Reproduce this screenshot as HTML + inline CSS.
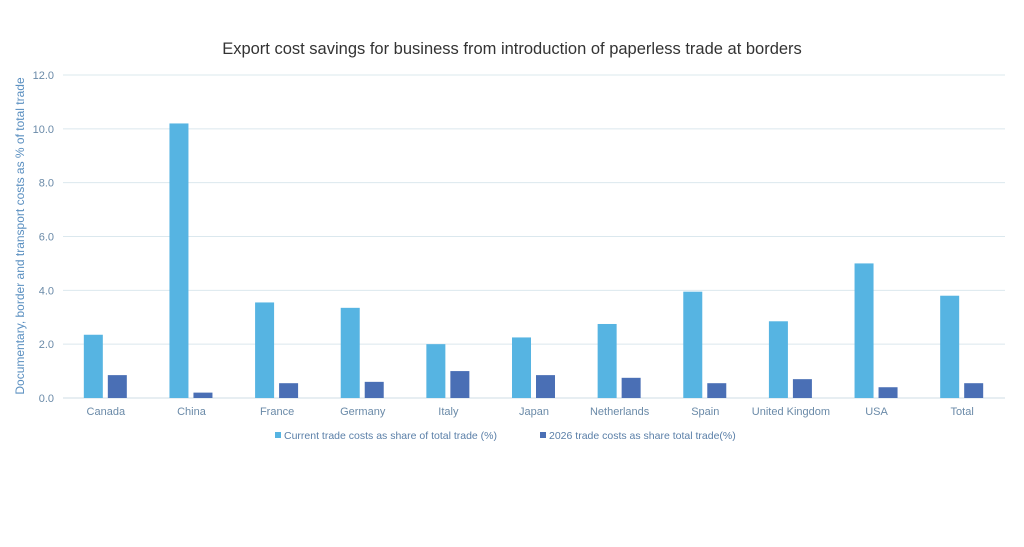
<!DOCTYPE html>
<html><head><meta charset="utf-8"><style>
body{margin:0;background:#fff;font-family:"Liberation Sans",sans-serif;}
svg{display:block}
</style></head><body>
<svg id="chart" width="1024" height="547">
<text x="512" y="54" text-anchor="middle" font-size="16.5" fill="#333">Export cost savings for business from introduction of paperless trade at borders</text>
<text transform="translate(24,236) rotate(-90)" text-anchor="middle" font-size="12" fill="#5a8fc0">Documentary, border and transport costs as % of total trade</text>
<g id="grid"></g><g id="bars"></g><g id="xlabels"></g>
<g>
<rect x="275" y="432" width="6" height="6" fill="#56b4e2"/>
<text x="284" y="439" font-size="10.5" fill="#5a7fa8">Current trade costs as share of total trade (%)</text>
<rect x="540" y="432" width="6" height="6" fill="#4a6fb5"/>
<text x="549" y="439" font-size="10.5" fill="#5a7fa8">2026 trade costs as share total trade(%)</text>
</g>
</svg>
<script>
const categories=["Canada","China","France","Germany","Italy","Japan","Netherlands","Spain","United Kingdom","USA","Total"];
const currentValues=[2.35,10.2,3.55,3.35,2.0,2.25,2.75,3.95,2.85,5.0,3.8];
const futureValues=[0.85,0.2,0.55,0.6,1.0,0.85,0.75,0.55,0.7,0.4,0.55];
const yTicks=["0.0","2.0","4.0","6.0","8.0","10.0","12.0"];
const NS="http://www.w3.org/2000/svg";
const x0=63,x1=1005,yb=398,yt=75,ymax=12;
const y=v=>yb-(v/ymax)*(yb-yt);
const bw=(x1-x0)/categories.length;
const cx=i=>x0+bw*(i+0.5);
function mk(t,a,p){const e=document.createElementNS(NS,t);for(const k in a)e.setAttribute(k,a[k]);p.appendChild(e);return e;}
const grid=document.getElementById('grid');
yTicks.forEach(t=>{const v=parseFloat(t);
const l=mk('line',{x1:x0,x2:x1,y1:y(v),y2:y(v),stroke:v===0?'#cfdde6':'#dbe8ee','stroke-width':1},grid);


const tx=mk('text',{x:54,y:y(v)+4,'text-anchor':'end','font-size':11,fill:'#6a8aa8'},grid);tx.textContent=t;

});
const bars=document.getElementById('bars'),xl=document.getElementById('xlabels');
categories.forEach((c,i)=>{
const a=mk('rect',{x:cx(i)-22,y:y(currentValues[i]),width:19,height:yb-y(currentValues[i]),fill:'#56b4e2'},bars);


const b=mk('rect',{x:cx(i)+2,y:y(futureValues[i]),width:19,height:yb-y(futureValues[i]),fill:'#4a6fb5'},bars);


const t=mk('text',{x:cx(i),y:415,'text-anchor':'middle','font-size':11,fill:'#6a8aa8'},xl);t.textContent=c;


});
</script>
</body></html>
